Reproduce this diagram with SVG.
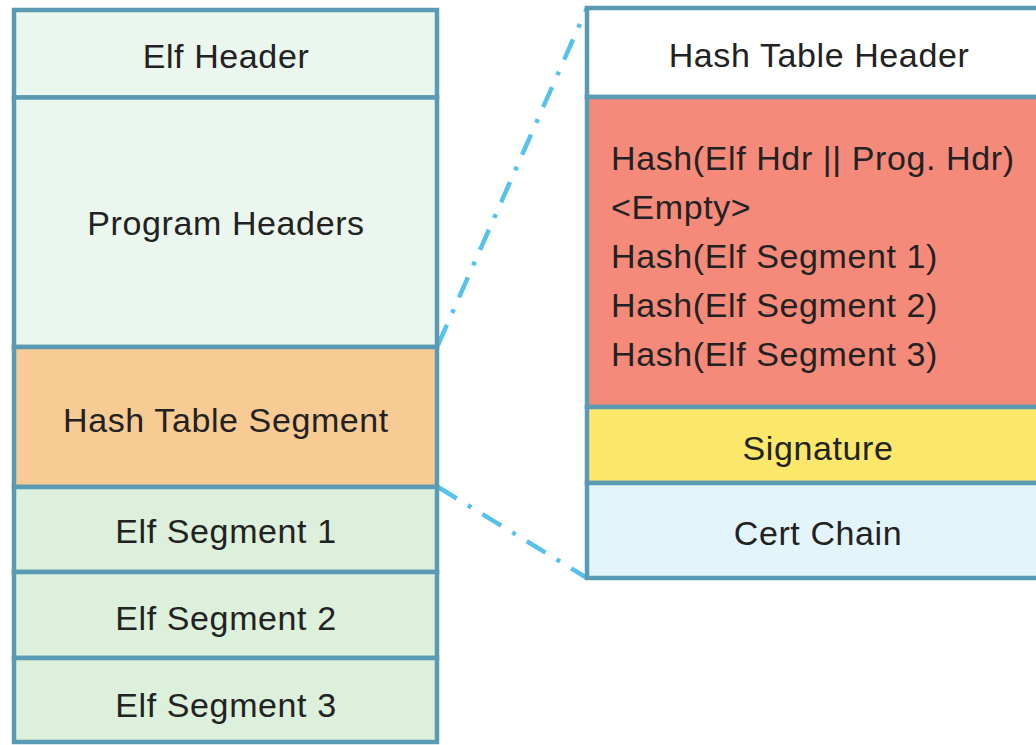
<svg xmlns="http://www.w3.org/2000/svg" width="1036" height="745" viewBox="0 0 1036 745">
  <style>
    .cell { stroke: #5a9ab3; stroke-width: 4.5; }
    .mint { fill: #ebf6ee; }
    .peach { fill: #f9cb94; }
    .green { fill: #dcf0dc; }
    .white { fill: #ffffff; }
    .salmon { fill: #f58a7a; }
    .yellow { fill: #fbe86b; }
    .sky { fill: #e3f5fb; }
    .lbl { font-family: "Liberation Sans", Arial, sans-serif; font-size: 34px; fill: #222222; text-anchor: middle; letter-spacing: 0.6px; }
    .row { font-family: "Liberation Sans", Arial, sans-serif; font-size: 34px; fill: #222222; letter-spacing: 0.6px; }
    .zoomline { fill: none; stroke: #56c2ea; stroke-width: 4.5; stroke-dasharray: 22 13 4 13; }
  </style>

  <!-- dash-dot lines linking the hash table segment to its expanded view -->
  <g id="connectors">
    <line class="zoomline" x1="438" y1="345" x2="587" y2="8"/>
    <line class="zoomline" x1="438" y1="487" x2="587" y2="578"/>
  </g>

  <!-- ELF file layout -->
  <g id="elf-header">
    <rect class="cell mint" x="14" y="10" width="423" height="87.5"/>
    <text class="lbl" x="226" y="68">Elf Header</text>
  </g>
  <g id="program-headers">
    <rect class="cell mint" x="14" y="97.5" width="423" height="249.5"/>
    <text class="lbl" x="226" y="235">Program Headers</text>
  </g>
  <g id="hash-table-segment">
    <rect class="cell peach" x="14" y="347" width="423" height="140"/>
    <text class="lbl" x="226" y="432">Hash Table Segment</text>
  </g>
  <g id="elf-segment-1">
    <rect class="cell green" x="14" y="487" width="423" height="85"/>
    <text class="lbl" x="226" y="543">Elf Segment 1</text>
  </g>
  <g id="elf-segment-2">
    <rect class="cell green" x="14" y="572" width="423" height="86"/>
    <text class="lbl" x="226" y="630">Elf Segment 2</text>
  </g>
  <g id="elf-segment-3">
    <rect class="cell green" x="14" y="658" width="423" height="84"/>
    <text class="lbl" x="226" y="717">Elf Segment 3</text>
  </g>

  <!-- Hash table segment contents -->
  <g id="hash-table-header">
    <rect class="cell white" x="587" y="8" width="464" height="89"/>
    <text class="lbl" x="819" y="67">Hash Table Header</text>
  </g>
  <g id="hash-entries">
    <rect class="cell salmon" x="587" y="97" width="464" height="310"/>
    <text class="row" x="611" y="170">Hash(Elf Hdr || Prog. Hdr)</text>
    <text class="row" x="611" y="219">&lt;Empty&gt;</text>
    <text class="row" x="611" y="268">Hash(Elf Segment 1)</text>
    <text class="row" x="611" y="317">Hash(Elf Segment 2)</text>
    <text class="row" x="611" y="366">Hash(Elf Segment 3)</text>
  </g>
  <g id="signature">
    <rect class="cell yellow" x="587" y="407" width="464" height="76"/>
    <text class="lbl" x="818" y="460">Signature</text>
  </g>
  <g id="cert-chain">
    <rect class="cell sky" x="587" y="483" width="464" height="95"/>
    <text class="lbl" x="818" y="545">Cert Chain</text>
  </g>
</svg>
